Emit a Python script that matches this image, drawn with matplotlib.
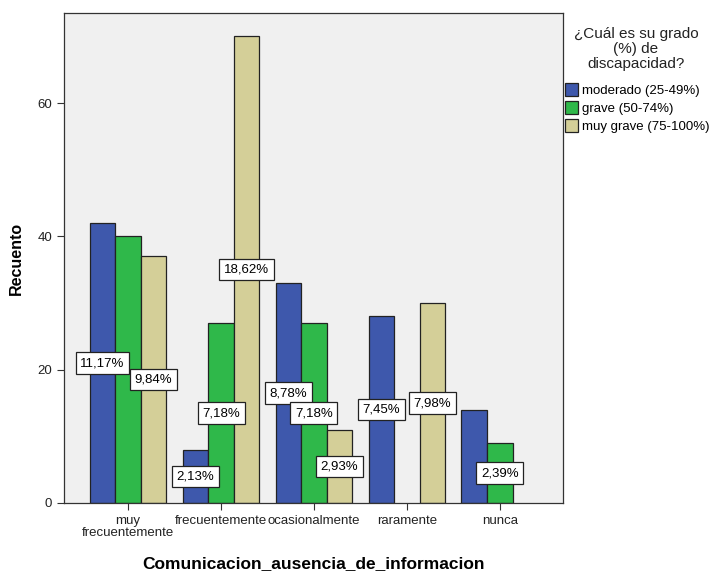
import matplotlib.pyplot as plt
import numpy as np
from matplotlib.patches import Patch

plt.rcParams['font.family'] = ['Liberation Sans', 'DejaVu Sans']

categorias = ['muy\nfrecuentemente', 'frecuentemente', 'ocasionalmente', 'raramente', 'nunca']
series = ['moderado (25-49%)', 'grave (50-74%)', 'muy grave (75-100%)']
moderado = [42, 8, 33, 28, 14]
grave = [40, 27, 27, 0, 9]
muy_grave = [37, 70, 11, 30, 0]
# etiquetas de porcentaje visibles en el original (None = oculta)
etiq_moderado = ['11,17%', '2,13%', '8,78%', '7,45%', None]
etiq_grave = [None, '7,18%', '7,18%', None, '2,39%']
etiq_muy_grave = ['9,84%', '18,62%', '2,93%', '7,98%', None]

colores = ['#3e58ac', '#2fb84a', '#d4cf98']

fig = plt.figure(figsize=(7.12, 5.71), dpi=100)
ax = fig.add_axes([0.0899, 0.1191, 0.7008, 0.8579])
ax.set_facecolor('#f0f0f0')

x = np.arange(len(categorias))
w = 0.275
datos = [moderado, grave, muy_grave]
etiquetas = [etiq_moderado, etiq_grave, etiq_muy_grave]
for i, (vals, etq) in enumerate(zip(datos, etiquetas)):
    pos = x + (i - 1) * w
    lw = [0.9 if v > 0 else 0 for v in vals]
    ax.bar(pos, vals, width=w, color=colores[i], edgecolor='#222222', linewidth=lw, zorder=2)
    for p, v, t in zip(pos, vals, etq):
        if t is None:
            continue
        ax.text(p, v / 2, t, ha='center', va='center', fontsize=9.5, zorder=4,
                bbox=dict(boxstyle='square,pad=0.35', facecolor='white', edgecolor='#222222', linewidth=0.9))

ax.set_xlim(-0.69, 4.68)
ax.set_ylim(0, 73.5)
ax.set_yticks([0, 20, 40, 60])
ax.set_xticks(x)
ax.set_xticklabels(categorias, fontsize=9.5, linespacing=1.05)
ax.tick_params(axis='both', direction='out', length=5, colors='#333333', labelsize=9.5, labelcolor='#222222')
for s in ax.spines.values():
    s.set_color('#333333')
    s.set_linewidth(0.9)

ax.set_ylabel('Recuento', fontsize=11.5, fontweight='bold', labelpad=10)
ax.set_xlabel('Comunicacion_ausencia_de_informacion', fontsize=12.5, fontweight='bold', labelpad=12)

fig.text(636 / 712, 1 - 27 / 571, '¿Cuál es su grado\n(%) de\ndiscapacidad?', ha='center', va='top',
         fontsize=11, linespacing=1.08, color='#222222')
handles = [Patch(facecolor=c, edgecolor='#222222', linewidth=0.9) for c in colores]
leg = fig.legend(handles, series, loc='upper left', bbox_to_anchor=(565 / 712, 1 - 83 / 571), frameon=False,
                 fontsize=9.5, handlelength=1.0, handleheight=1.15,
                 handletextpad=0.3, labelspacing=0.3, borderpad=0.0, borderaxespad=0.0)

fig.savefig('out.png', dpi=100)
